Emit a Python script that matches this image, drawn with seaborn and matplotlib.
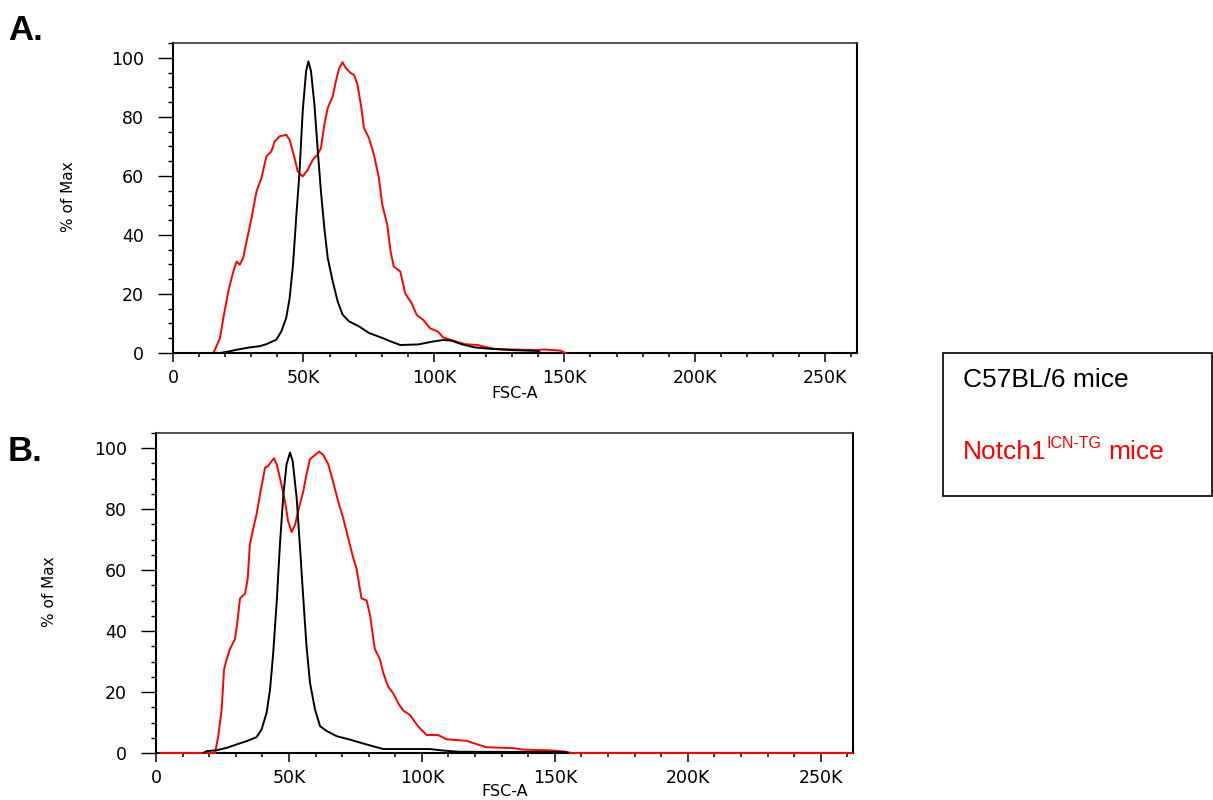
import matplotlib
matplotlib.use("Agg")
import matplotlib.pyplot as plt
import matplotlib.ticker as mticker
from matplotlib.patches import Rectangle
import seaborn as sns

# FSC-A values are in thousands (K), heights in % of max

# panel A
a_red_x = [15.5, 18, 19.3, 21.2, 23.1, 24.4, 25.6, 26.9, 28.2, 30.1, 32, 33.9, 35.8, 37.7, 39,
           40.9, 43.4, 44.7, 46.6, 47.8, 49.7, 51.6, 53.6, 55.4, 56.7, 58, 59.3, 61.2, 62.4,
           63.7, 65, 66.2, 68.1, 69.4, 70.7, 72, 73.2, 75.1, 77, 78.9, 80.2, 82.1, 83.4, 84.6,
           87.1, 89, 91.5, 93.4, 95.9, 98.5, 101.6, 103.5, 107.3, 111.8, 116.8, 119.4, 123.2,
           129.5, 139.7, 142.2, 148.5, 150.5]
a_red_y = [0, 5, 11.9, 20.9, 27.6, 31, 29.9, 32.2, 37.8, 45.7, 54.7, 59.3, 66.6, 68.3, 71.7,
           73.4, 73.9, 72.2, 66, 61.5, 59.8, 62, 65.5, 67.2, 69.4, 77.3, 83, 86.9, 92,
           96.5, 98.5, 96.5, 94.8, 94.2, 90.9, 84.1, 76.2, 72.8, 67.2, 59.3, 50.2, 43.5, 34.4, 29.3,
           27.6, 20.2, 16.8, 12.9, 11.2, 8.4, 7.2, 5.3, 4.2, 3, 2.7, 2.1, 1.4,
           1.2, 1, 1.2, 0.8, 0]
a_black_x = [2.2, 18, 21.8, 24.4, 29.4, 33.2, 35.8, 39.6, 41.5, 43.4, 44.7, 46, 47.2, 48.5, 49.7,
             51, 51.9, 52.9, 54.2, 55.5, 56.7, 58, 59.3, 61.2, 63.1, 65, 67.5, 71.3, 75.1, 80.2,
             83.5, 87.1, 94, 99.1, 103.5, 106.7, 110.5, 115.6, 121.9, 129.5, 139.7, 141]
a_black_y = [0, 0, 0.6, 1.1, 1.9, 2.3, 3, 4.5, 7.3, 11.9, 18.6, 29.9, 45.7, 61.5, 81.8,
             95.4, 98.8, 95.4, 84.1, 68.3, 54.7, 42.3, 32.2, 24.3, 17.5, 13, 10.7, 9, 6.8, 5.1,
             3.9, 2.7, 2.9, 3.8, 4.4, 4.2, 3, 1.9, 1.4, 1, 0.7, 0]

# panel B
b_red_x = [1.5, 22.2, 23.4, 24.7, 25.6, 26.6, 27.8, 29.7, 30.6, 31.6, 33.5, 34.5, 35.3, 36.6,
           37.8, 39.1, 41, 42.2, 43.5, 44.4, 45.4, 46.9, 48.5, 49.7, 51, 52.3, 53.9, 55.4, 56.6,
           57.9, 59.8, 61.4, 62.9, 64.8, 66.7, 68.5, 70.4, 72.3, 74.2, 75.4, 77.3, 79.2, 80.5,
           82.3, 84.2, 85.5, 87.3, 89.2, 91.1, 93, 95.5, 98.6, 101.8, 106.1, 109.3, 116.8, 120.6,
           124.3, 134.3, 138.1, 148.1, 154.4, 156, 262]
b_red_y = [0, 0, 5.5, 14.3, 27.5, 30.8, 34.1, 37.4, 43, 50.7, 52.3, 57.3, 68.3, 73.8,
           78.2, 84.8, 93.6, 94.2, 95.8, 96.7, 94.7, 89.2, 82.6, 76, 72.5, 74.9, 80.9, 85.9, 91.4,
           96.4, 97.8, 98.9, 97.8, 94.7, 88.7, 82.6, 77.1, 70.5, 63.9, 60.6, 50.7, 50.1, 45.2,
           34.1, 30.8, 26.2, 21.8, 19.6, 16.3, 13.9, 12.5, 8.7, 5.9, 5.9, 4.5, 4, 2.9,
           1.9, 1.6, 1.1, 0.9, 0.4, 0, 0]
b_black_x = [17.8, 19, 22.8, 26.6, 30.3, 34.1, 37.8, 39.7, 41.6, 42.9, 44.1, 45.4, 46.6,
             47.9, 49.1, 50.4, 51.4, 52.9, 54.1, 55.4, 56.6, 57.9, 59.8, 61.7, 64.2, 68, 72.9, 78,
             81.7, 85.5, 103, 108, 114.3, 153.8, 155]
b_black_y = [0, 0.6, 0.9, 1.7, 2.8, 3.9, 5.2, 7.7, 13.2, 20.9, 33, 49.6, 68.3,
             84.8, 94.7, 98.6, 95.8, 83.7, 68.3, 50.7, 35.2, 23.1, 14.3, 8.8, 7.2, 5.5, 4.4, 3.1,
             2.2, 1.3, 1.3, 0.8, 0.4, 0.3, 0]

x_ticks = [0, 50, 100, 150, 200, 250]
y_ticks = [0, 20, 40, 60, 80, 100]

sns.set_style("ticks")
plt.rcParams['font.family'] = ['DejaVu Sans']
plt.rcParams['text.color'] = 'black'
plt.rcParams['axes.labelcolor'] = 'black'
plt.rcParams['xtick.color'] = 'black'
plt.rcParams['ytick.color'] = 'black'

W, H = 1213, 800
fig = plt.figure(figsize=(W / 100, H / 100), dpi=100)
ax_a = fig.add_axes([173 / W, 1 - 353 / H, 684 / W, 310 / H])
ax_b = fig.add_axes([156 / W, 1 - 753 / H, 697 / W, 320 / H])


def k_label(v, pos):
    return "0" if v == 0 else f"{int(round(v))}K"


def draw_panel(ax, bx, by, rx, ry, xlab_y, xlab_va):
    sns.lineplot(x=rx, y=ry, ax=ax, color="#ff0000", lw=1.4, sort=False,
                 estimator=None, zorder=3, clip_on=False)
    sns.lineplot(x=bx, y=by, ax=ax, color="black", lw=1.4, sort=False,
                 estimator=None, zorder=3.1, clip_on=False)
    ax.set_xlim(0, 262.144)
    ax.set_ylim(0, 105)
    ax.set_xticks(x_ticks)
    ax.set_yticks(y_ticks)
    ax.xaxis.set_minor_locator(mticker.MultipleLocator(10))
    ax.yaxis.set_minor_locator(mticker.MultipleLocator(5))
    ax.xaxis.set_major_formatter(mticker.FuncFormatter(k_label))
    ax.tick_params(axis="x", which="major", direction="out", length=6.5, width=1.1,
                   pad=5, labelsize=12.5, colors="black")
    ax.tick_params(axis="x", which="minor", direction="out", length=3, width=1.1, colors="black")
    ax.tick_params(axis="y", which="major", direction="out", length=10.8, width=1,
                   pad=10, labelsize=12.5, colors="black")
    ax.tick_params(axis="y", which="minor", direction="out", length=3.6, width=1, colors="black")
    for side in ["left", "bottom", "right"]:
        ax.spines[side].set_visible(True)
        ax.spines[side].set_linewidth(1.5)
        ax.spines[side].set_color("black")
    ax.spines["top"].set_visible(True)
    ax.spines["top"].set_linewidth(1.2)
    ax.spines["top"].set_color("#333333")
    ax.set_xlabel("FSC-A", fontsize=11.5, va=xlab_va, color="black")
    ax.xaxis.set_label_coords(0.5, xlab_y)
    ax.set_ylabel("% of Max", fontsize=11, color="black",
                  family=["Liberation Sans Narrow", "DejaVu Sans"])
    ax.yaxis.set_label_coords(-0.142, 0.505)


draw_panel(ax_a, a_black_x, a_black_y, a_red_x, a_red_y, -0.108, "top")
draw_panel(ax_b, b_black_x, b_black_y, b_red_x, b_red_y, -0.143, "bottom")

# panel letters
fig.text(8 / W, 1 - 40 / H, "A.", fontsize=25, fontweight="bold", color="black",
         family=["Liberation Sans", "DejaVu Sans"], va="baseline", ha="left")
fig.text(8 / W, 1 - 461 / H, "B.", fontsize=25, fontweight="bold", color="black",
         family=["Liberation Sans", "DejaVu Sans"], va="baseline", ha="left")

# legend box
fig.add_artist(Rectangle((943 / W, 1 - 496 / H), 269 / W, 143 / H,
                         transform=fig.transFigure, fill=False, lw=1.2, ec="black"))
leg_font = ["Liberation Sans", "DejaVu Sans"]
fig.text(963 / W, 1 - 387 / H, "C57BL/6 mice", fontsize=19, color="black",
         family=leg_font, va="baseline", ha="left")
t1 = fig.text(963 / W, 1 - 459 / H, "Notch1", fontsize=19, color="#ff0000",
              family=leg_font, va="baseline", ha="left")
sup = fig.add_artist(plt.Annotation("ICN-TG", xy=(1, 1), xycoords=t1,
                                    xytext=(0, 3), textcoords="offset points",
                                    fontsize=11.5, color="#ff0000", family=leg_font,
                                    va="top", ha="left"))
fig.add_artist(plt.Annotation("mice", xy=(1, 0), xycoords=(sup, t1),
                              xytext=(5, 0), textcoords="offset points",
                              fontsize=19, color="#ff0000", family=leg_font,
                              va="bottom", ha="left"))

fig.savefig("out.png", dpi=100)
